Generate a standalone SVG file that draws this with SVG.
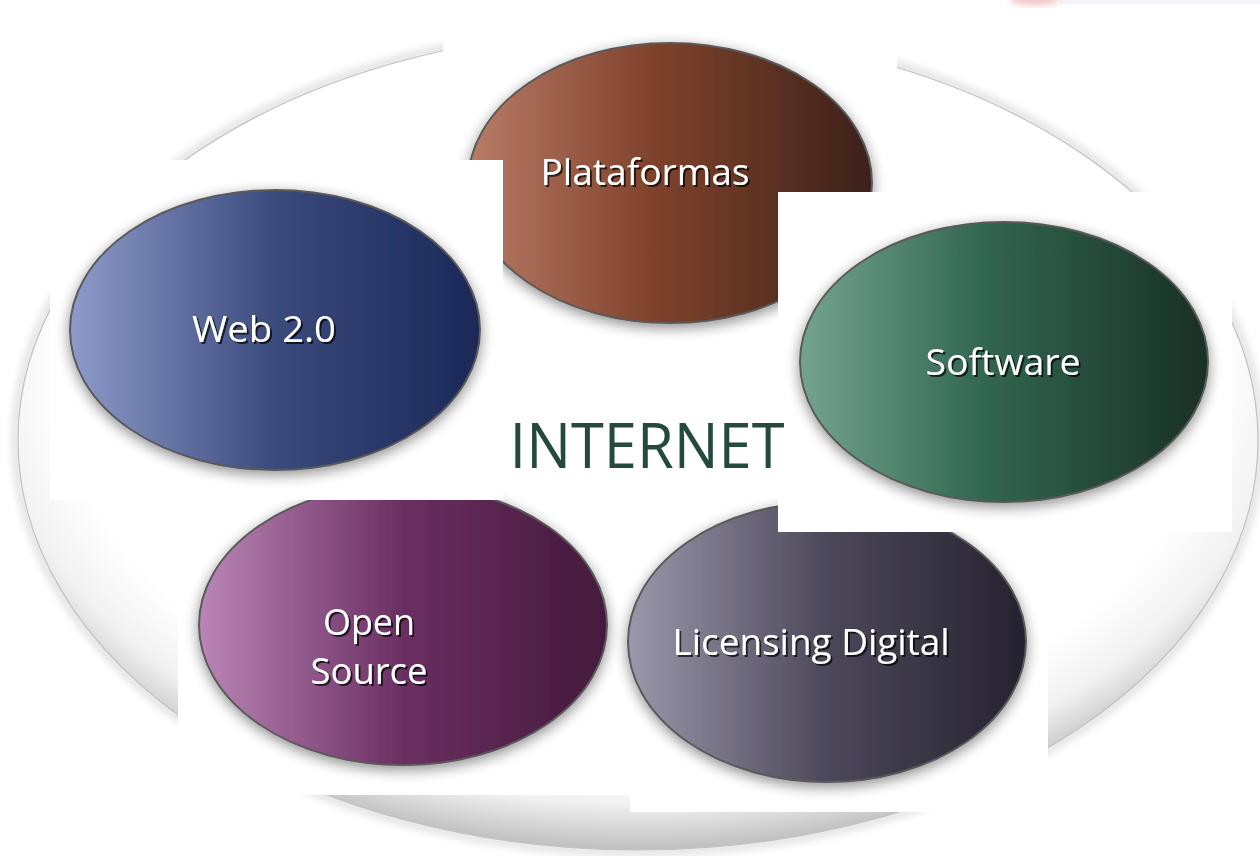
<svg xmlns="http://www.w3.org/2000/svg" width="1260" height="856" viewBox="0 0 1260 856">
<style>
.lbl{font-family:"Open Sans","Liberation Sans",sans-serif;font-size:36px;fill:#fff;text-anchor:middle;filter:url(#ts)}
.node{stroke:#5a5a5a;stroke-width:2;filter:url(#sh)}
.card{fill:#fff}
</style>
<defs>
<radialGradient id="bg" cx="0.5" cy="0.42" r="0.58">
<stop offset="0.8" stop-color="#fff"/>
<stop offset="0.9" stop-color="#f2f2f2"/>
<stop offset="1" stop-color="#bfbfbf"/>
</radialGradient>
<linearGradient id="gP"><stop offset="0" stop-color="#b87c67"/><stop offset="0.45" stop-color="#80432c"/><stop offset="1" stop-color="#3d211a"/></linearGradient>
<linearGradient id="gW"><stop offset="0" stop-color="#8e9bca"/><stop offset="0.5" stop-color="#3a4a7c"/><stop offset="1" stop-color="#1a2857"/></linearGradient>
<linearGradient id="gS"><stop offset="0" stop-color="#74a48f"/><stop offset="0.45" stop-color="#326650"/><stop offset="1" stop-color="#193024"/></linearGradient>
<linearGradient id="gO"><stop offset="0" stop-color="#ba86b6"/><stop offset="0.5" stop-color="#6a2f62"/><stop offset="1" stop-color="#44193b"/></linearGradient>
<linearGradient id="gL"><stop offset="0" stop-color="#9c98ab"/><stop offset="0.5" stop-color="#4c485a"/><stop offset="1" stop-color="#25222f"/></linearGradient>
<filter id="sh" x="-20%" y="-20%" width="140%" height="140%"><feGaussianBlur in="SourceAlpha" stdDeviation="7"/><feOffset dx="0" dy="4"/><feComponentTransfer><feFuncA type="linear" slope="0.45"/></feComponentTransfer><feMerge><feMergeNode/><feMergeNode in="SourceGraphic"/></feMerge></filter>
<filter id="ts" x="-10%" y="-20%" width="120%" height="150%"><feOffset in="SourceAlpha" dx="2" dy="2" result="o"/><feComponentTransfer in="o"><feFuncA type="linear" slope="0.7"/></feComponentTransfer><feMerge><feMergeNode/><feMergeNode in="SourceGraphic"/></feMerge></filter>
<filter id="bl"><feGaussianBlur stdDeviation="3"/></filter>
<filter id="halo" x="-5%" y="-5%" width="110%" height="110%"><feGaussianBlur stdDeviation="4"/></filter>
</defs>
<rect width="1260" height="856" fill="#fff"/>
<rect x="1060" y="0" width="200" height="4" fill="#f5f3fa"/>
<ellipse cx="1035" cy="0" rx="25" ry="6" fill="#f6c9c9" filter="url(#bl)"/>
<g id="background">
<ellipse cx="638" cy="440" rx="622" ry="412" fill="none" stroke="#d6d6d6" stroke-width="6" filter="url(#halo)"/>
<ellipse cx="638" cy="440" rx="620" ry="410" fill="url(#bg)" stroke="#c2c2c2" stroke-width="1.2"/>
</g>
<g id="plataformas">
<rect class="card" x="443" y="12" width="454" height="320"/>
<ellipse class="node" cx="670" cy="183" rx="202" ry="140" fill="url(#gP)"/>
<text class="lbl" x="645" y="185" textLength="209" lengthAdjust="spacingAndGlyphs">Plataformas</text>
</g>
<g id="open-source">
<rect class="card" x="178" y="470" width="452" height="325"/>
<ellipse class="node" cx="403" cy="625" rx="204" ry="140" fill="url(#gO)"/>
<text class="lbl" x="369" y="635" textLength="92" lengthAdjust="spacingAndGlyphs">Open</text>
<text class="lbl" x="369" y="684" textLength="117" lengthAdjust="spacingAndGlyphs">Source</text>
</g>
<g id="licensing-digital">
<rect class="card" x="630" y="480" width="418" height="332"/>
<ellipse class="node" cx="827" cy="642" rx="199" ry="140" fill="url(#gL)"/>
<text class="lbl" x="811" y="655" textLength="277" lengthAdjust="spacingAndGlyphs">Licensing Digital</text>
</g>
<g id="web-2-0">
<rect class="card" x="50" y="160" width="453" height="340"/>
<ellipse class="node" cx="275" cy="330" rx="205" ry="140" fill="url(#gW)"/>
<text class="lbl" x="264" y="342" textLength="144" lengthAdjust="spacingAndGlyphs">Web 2.0</text>
</g>
<g id="software">
<rect class="card" x="778" y="192" width="454" height="340"/>
<ellipse class="node" cx="1004" cy="362" rx="204" ry="140" fill="url(#gS)"/>
<text class="lbl" x="1003" y="375" textLength="155" lengthAdjust="spacingAndGlyphs">Software</text>
</g>
<g id="internet">
<text x="647" y="468" font-family="'Open Sans','Liberation Sans',sans-serif" font-size="62" fill="#234a3b" text-anchor="middle" textLength="275" lengthAdjust="spacingAndGlyphs">INTERNET</text>
</g>
<g id="connectors"/>
</svg>
